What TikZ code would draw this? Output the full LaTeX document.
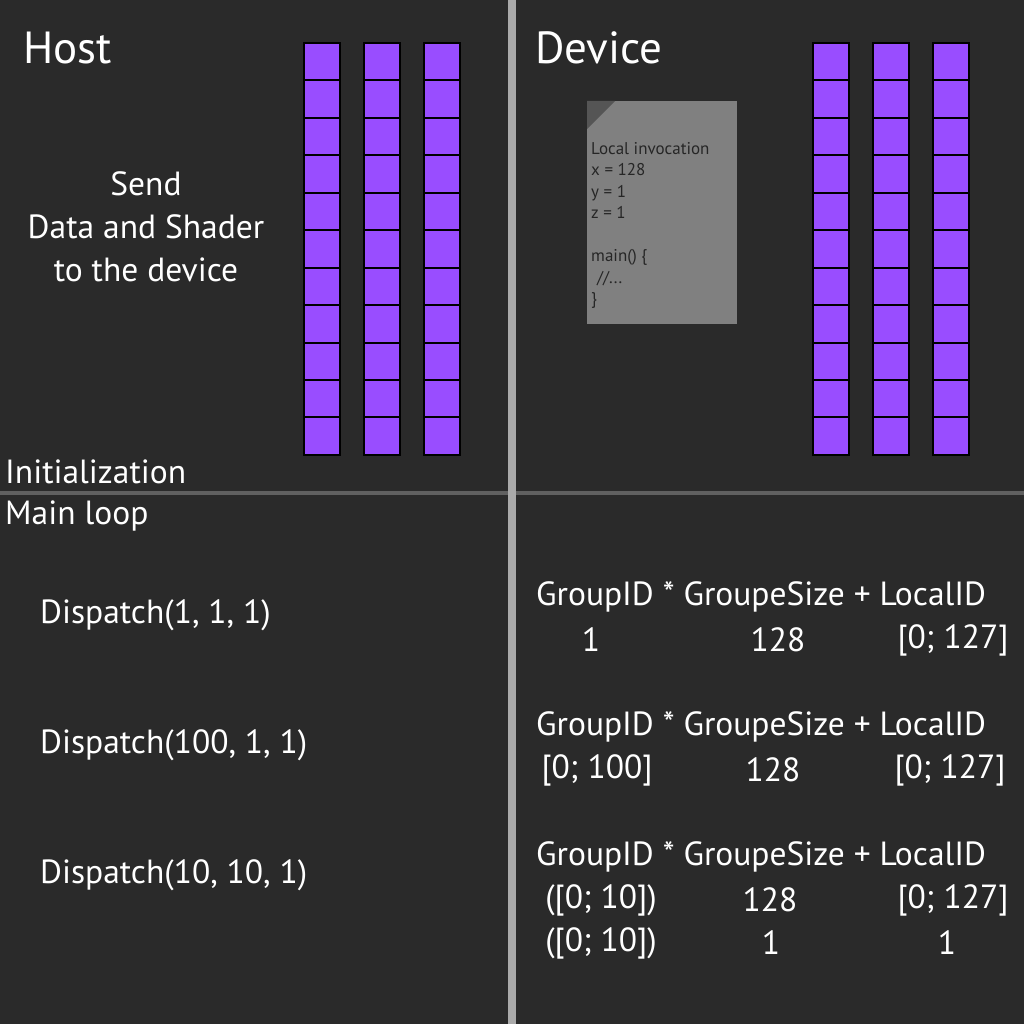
\documentclass[tikz,border=0pt]{standalone}
\usepackage{fontspec}
\setmainfont{PT Sans}
\usetikzlibrary{positioning}
\definecolor{bggray}{RGB}{42,42,42}
\definecolor{cellviolet}{RGB}{153,77,255}
\definecolor{paper}{RGB}{128,128,128}
\definecolor{paperfold}{RGB}{85,85,85}
\definecolor{splitgray}{RGB}{170,170,170}
\definecolor{rowgray}{RGB}{96,96,96}

\begin{document}
\begin{tikzpicture}[x=1pt, y=-1pt,
        cell/.style={draw=black, line width=2pt, fill=cellviolet, minimum width=36pt, minimum height=37.45pt, inner sep=0pt},
        big/.style={text=white, inner sep=0pt, font=\fontsize{45}{50}\selectfont},
        lbl/.style={text=white, inner sep=0pt, font=\fontsize{33.5}{43}\selectfont},
        code/.style={text=black!85, inner sep=0pt, align=left, font=\fontsize{17}{21.5}\selectfont}
      ]
        % background and split lines
        \fill[bggray] (0,0) rectangle (1024,1024);
        \useasboundingbox (0,0) rectangle (1024,1024);
        \fill[rowgray] (0,491) rectangle (1024,495);
        \fill[splitgray] (508,0) rectangle (516,1024);

        % titles
        \node[big, anchor=west] (host) at (23,48) {Host};
        \node[big, anchor=west] (device) at (535,48) {Device};

        % buffers
        \foreach \cx in {322,382,442}
          \foreach \r in {0,...,10}
            \node[cell] (h\cx-\r) at (\cx,{61.7+37.45*\r}) {};
        \foreach \cx in {831,891,951}
          \foreach \r in {0,...,10}
            \node[cell] (d\cx-\r) at (\cx,{61.7+37.45*\r}) {};

        \node[lbl, align=center] (send) at (146,227) {Send\\Data and Shader\\to the device};

        % shader sheet
        \fill[paper] (587,101) rectangle (737,324);
        \fill[paperfold] (587,101) -- (615,101) -- (587,129) -- cycle;
        \node[code, anchor=north west] (shader) at (591,142) {Local invocation\\x = 128\\y = 1\\z = 1\\\mbox{}\\main() \{\\\hspace{6pt}//...\\\}};

        % phases
        \node[lbl, anchor=west] (init) at (5,472) {Initialization};
        \node[lbl, anchor=west] (loop) at (5,516) {Main loop};

        \node[lbl, anchor=west] (disp1) at (40,615) {Dispatch(1, 1, 1)};
        \node[lbl, anchor=west] (disp2) at (40,745) {Dispatch(100, 1, 1)};
        \node[lbl, anchor=west] (disp3) at (40,875) {Dispatch(10, 10, 1)};

        % index formulas
        \node[lbl, anchor=west] (f1) at (536,597) {GroupID * GroupeSize + LocalID};
        \node[lbl] (g1) at (591,640) {1};
        \node[lbl] (s1) at (778,640) {128};
        \node[lbl] (l1) at (953,640) {[0; 127]};

        \node[lbl, anchor=west] (f2) at (536,727) {GroupID * GroupeSize + LocalID};
        \node[lbl] (g2) at (597,770) {[0; 100]};
        \node[lbl] (s2) at (773,770) {128};
        \node[lbl] (l2) at (950,770) {[0; 127]};

        \node[lbl, anchor=west] (f3) at (536,857) {GroupID * GroupeSize + LocalID};
        \node[lbl] (g3) at (601,900) {([0; 10])};
        \node[lbl] (s3) at (770,900) {128};
        \node[lbl] (l3) at (953,900) {[0; 127]};
        \node[lbl] (g3b) at (601,943) {([0; 10])};
        \node[lbl] (s3b) at (771,943) {1};
        \node[lbl] (l3b) at (947,943) {1};
      \end{tikzpicture}
\end{document}
